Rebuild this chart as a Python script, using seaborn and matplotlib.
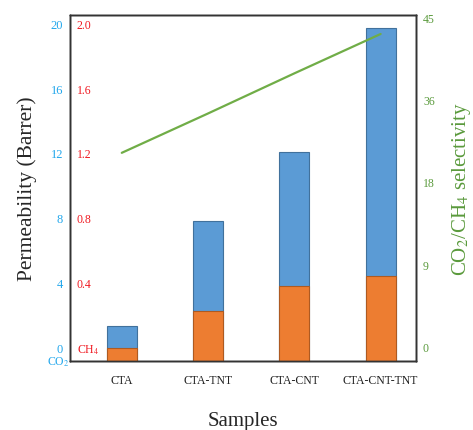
import numpy as np
import pandas as pd
import matplotlib
import matplotlib.pyplot as plt
import seaborn as sns

matplotlib.use('Agg')

# values
samples = ['CTA', 'CTA-TNT', 'CTA-CNT', 'CTA-CNT-TNT']
co2_perm = [2.18, 8.66, 12.88, 20.54]
ch4_perm = [0.080, 0.310, 0.463, 0.527]
selectivity = [26.5, 31.9, 37.4, 42.8]

co2_ticks = [0, 4, 8, 12, 16, 20]
ch4_ticks = [0.0, 0.4, 0.8, 1.2, 1.6, 2.0]
ch4_tick_labels = ['CH$_4$', '0.4', '0.8', '1.2', '1.6', '2.0']
sel_tick_labels = ['0', '9', '18', '36', '45']

blue = '#5B9BD5'
orange = '#ED7D31'
green = '#70AD47'
blue_txt = '#22A7EC'
red_txt = '#F01820'
green_txt = '#5A9A3C'

sns.set_style('white')
plt.rcParams['font.family'] = ['Liberation Serif', 'DejaVu Serif']
plt.rcParams['mathtext.fontset'] = 'stix'

df = pd.DataFrame({'Sample': samples, 'CO2': co2_perm, 'CH4': ch4_perm,
                   'Selectivity': selectivity})

fig = plt.figure(figsize=(4.73, 4.31), dpi=100)
ax = fig.add_axes([0.148, 0.160, 0.7315, 0.8028])

# CO2 permeability
sns.barplot(data=df, x='Sample', y='CO2', color=blue, width=0.35,
            edgecolor='#41719C', linewidth=0.8, saturation=1, ax=ax)
ax.set_ylim(0, 21.36)
ax.set_yticks(np.array(co2_ticks) + 0.85)
ax.set_yticklabels([str(t) for t in co2_ticks])
ax.tick_params(axis='y', colors=blue_txt, length=0, pad=5, labelsize=9)
ax.tick_params(axis='x', length=0, pad=9, labelsize=8.5, labelcolor='#222222')
ax.set_xlabel('Samples', fontsize=15, labelpad=18)
ax.set_ylabel('Permeability (Barrer)', fontsize=15.5, labelpad=10)
ax.text(-0.035, -0.002, 'CO$_2$', color=blue_txt, fontsize=8.5,
        ha='center', va='center', transform=ax.transAxes)

# CH4 permeability, labels inside the left edge
ax_ch4 = ax.twinx()
sns.barplot(data=df, x='Sample', y='CH4', color=orange, width=0.35,
            edgecolor='#AE5A21', linewidth=0.8, saturation=1, ax=ax_ch4)
ax_ch4.set_ylim(0, 2.136)
ax_ch4.yaxis.tick_left()
ax_ch4.set_yticks(np.array(ch4_ticks) + 0.085)
ax_ch4.set_yticklabels(ch4_tick_labels)
ax_ch4.tick_params(axis='y', colors=red_txt, length=0, pad=-5, labelsize=8.5)
for lab in ax_ch4.get_yticklabels():
    lab.set_horizontalalignment('left')
ax_ch4.set_ylabel('')
ax_ch4.set_xlabel('')

# CO2/CH4 selectivity
ax_sel = ax.twinx()
sns.lineplot(data=df, x='Sample', y='Selectivity', color=green,
             linewidth=1.6, sort=False, ax=ax_sel)
ax_sel.set_ylim(-2.06, 45.4)
ax_sel.set_yticks(np.linspace(0, 45, 5))
ax_sel.set_yticklabels(sel_tick_labels)
ax_sel.tick_params(axis='y', colors=green_txt, length=0, pad=5, labelsize=8.5)
ax_sel.set_ylabel('CO$_2$/CH$_4$ selectivity', fontsize=15, color=green_txt,
                  labelpad=11)
ax_sel.set_xlabel('')

ax.set_xlim(-0.6, 3.41)
for a in (ax, ax_ch4, ax_sel):
    for s in a.spines.values():
        s.set_color('#333333')
        s.set_linewidth(1.0)

plt.savefig('out.png', dpi=100)
plt.close()
